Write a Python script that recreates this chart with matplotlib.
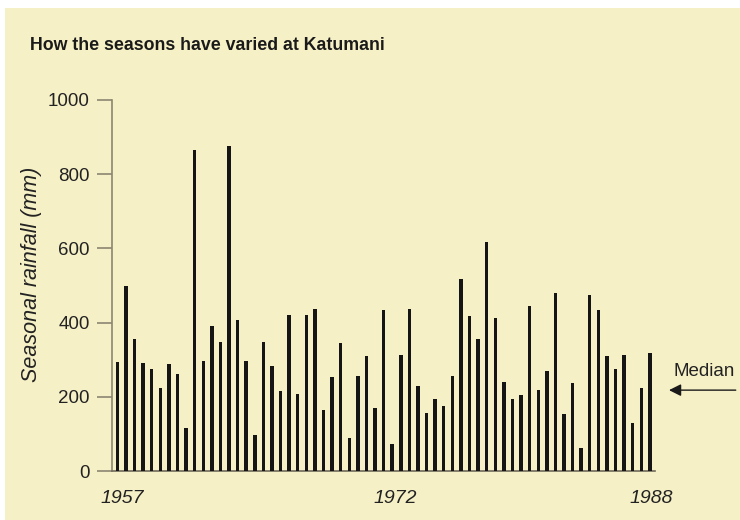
import numpy as np
import matplotlib.pyplot as plt
from matplotlib.patches import Rectangle

# seasonal rainfall at Katumani, two seasons per year, 1957-1988 (mm)
rainfall = [295, 499, 356, 292, 274, 225, 288, 262, 116, 864,
            296, 391, 349, 877, 407, 296, 96, 349, 282, 217,
            420, 207, 420, 438, 164, 253, 344, 89, 255, 310,
            171, 435, 73, 314, 437, 228, 156, 194, 176, 257,
            518, 417, 355, 618, 413, 240, 194, 206, 446, 219,
            270, 480, 154, 237, 61, 475, 433, 310, 276, 312,
            129, 224, 319]
year_labels = ["1957", "1972", "1988"]
year_pos = [0.55, 32.3, 62.2]
median_value = 218

plt.rcParams['font.family'] = ['Liberation Sans', 'DejaVu Sans']

bg = "#f6f0c6"
axis_col = "#8c8672"

fig = plt.figure(figsize=(7.4, 5.2), dpi=100)
fig.patch.set_facecolor("white")
fig.patches.append(Rectangle((0.007, 0), 0.993, 0.984, transform=fig.transFigure,
                             facecolor=bg, edgecolor="none", zorder=-5))

ax = fig.add_axes([0.1514, 0.0942, 0.7338, 0.7135])
ax.set_facecolor("none")
x = np.arange(len(rainfall))
ax.bar(x, rainfall, width=0.4, color="#151515", zorder=3)

ax.set_ylim(0, 1000)
ax.set_xlim(-0.62, 62.6)
ax.set_yticks([0, 200, 400, 600, 800, 1000])
ax.tick_params(axis="y", length=11, width=1.2, color=axis_col, labelsize=13.5, pad=5,
               labelcolor="#222222")
ax.set_xticks([])
for s in ["top", "right"]:
    ax.spines[s].set_visible(False)
ax.spines["left"].set_color(axis_col)
ax.spines["left"].set_linewidth(1.2)
ax.spines["bottom"].set_color("#6f6a5a")
ax.spines["bottom"].set_linewidth(1.2)

for lab, p in zip(year_labels, year_pos):
    ax.text(p, -73, lab, ha="center", va="center", fontsize=14, style="italic",
            color="#222222")

fig.text(0.043, 0.473, "Seasonal rainfall (mm)", fontsize=15.5, style="italic",
         color="#222222", rotation=90, ha="center", va="center")

fig.text(0.04, 0.912, "How the seasons have varied at Katumani", fontsize=12.8,
         fontweight="bold", color="#1a1a1a", va="center")

# median arrow
ax.annotate("", xy=(63.9, median_value), xycoords="data",
            xytext=(0.998, median_value), textcoords=("figure fraction", "data"),
            arrowprops=dict(arrowstyle="-|>", color="#1a1a1a", lw=1.0,
                            mutation_scale=18), annotation_clip=False)
fig.text(0.951, 0.285, "Median", fontsize=13.5, ha="center", va="center", color="#222222")

fig.savefig("out.png", dpi=100)
